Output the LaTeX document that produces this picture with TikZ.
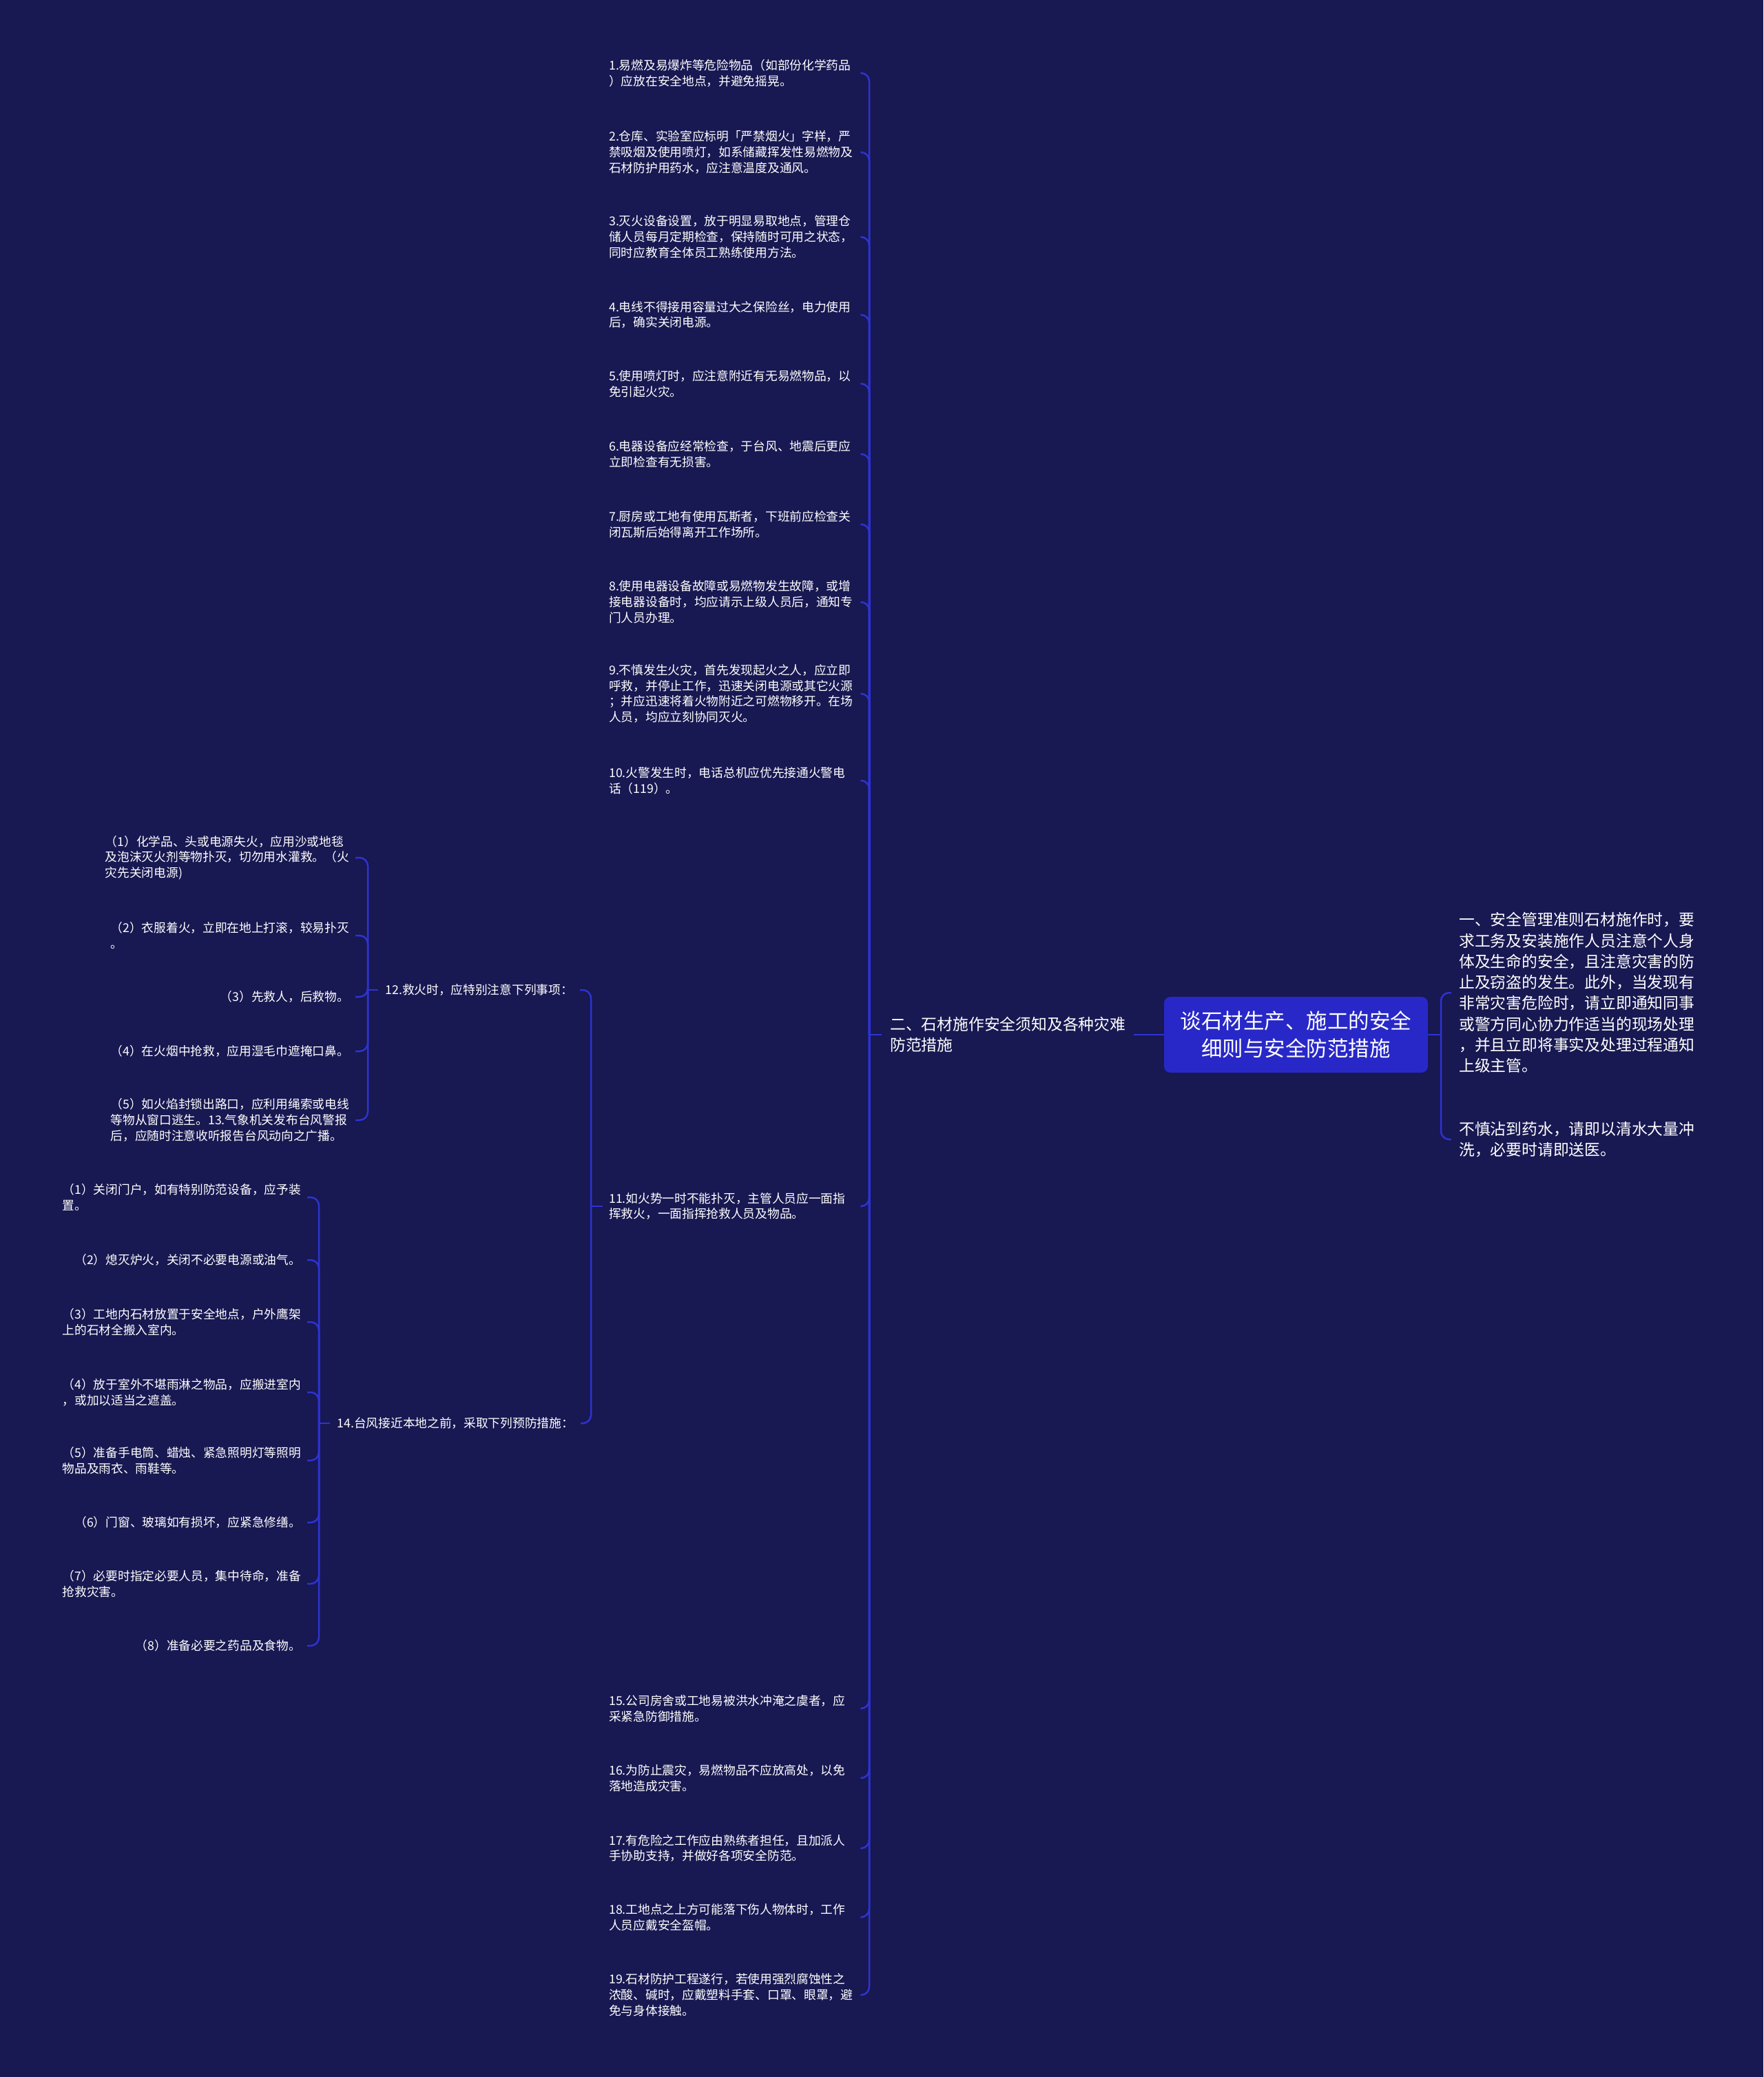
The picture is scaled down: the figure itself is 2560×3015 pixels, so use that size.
\documentclass[tikz,border=0pt]{standalone}
\usepackage{fontspec}
\setmainfont{Noto Sans CJK SC}
\definecolor{bgc}{HTML}{181852}
\definecolor{rootc}{HTML}{2828C8}
\definecolor{linec}{HTML}{2E33D2}
\begin{document}
\begin{tikzpicture}[x=1pt,y=-1pt,
  conn/.style={draw=linec, line width=2.5pt},
  hook/.style={conn, rounded corners=12pt},
  sm/.style={text=white, font=\fontsize{17.7pt}{22.8pt}\selectfont, align=left, inner xsep=9pt, inner ysep=3pt},
  itemn/.style={sm, text width=356pt, anchor=west},
  subl/.style={sm, anchor=east},
  md/.style={text=white, font=\fontsize{22.8pt}{30.3pt}\selectfont, align=left, inner xsep=11pt, inner ysep=3pt}]

% background
\fill[bgc] (0,0) rectangle (2560,3015);
\useasboundingbox (0,0) rectangle (2560,3015);

% root
\node[fill=rootc, rounded corners=9pt, minimum width=383pt, minimum height=110pt, text=white, align=center,
      font=\fontsize{30.5pt}{40pt}\selectfont] (root) at (1881.5,1502) {谈石材生产、施工的安全\\细则与安全防范措施};

% right children
\node[md, anchor=west] (r1) at (2107,1441) {一、安全管理准则石材施作时，要\\求工务及安装施作人员注意个人身\\体及生命的安全，且注意灾害的防\\止及窃盗的发生。此外，当发现有\\非常灾害危险时，请立即通知同事\\或警方同心协力作适当的现场处理\\，并且立即将事实及处理过程通知\\上级主管。};
\node[md, anchor=west] (r2) at (2107,1654) {不慎沾到药水，请即以清水大量冲\\洗，必要时请即送医。};

% left branch
\node[md, anchor=west, inner xsep=12pt] (b2) at (1280,1502) {二、石材施作安全须知及各种灾难\\防范措施};

% items
\node[itemn] (i1) at (875,106) {1.易燃及易爆炸等危险物品（如部份化学药品\\）应放在安全地点，并避免摇晃。};
\node[itemn] (i2) at (875,221) {2.仓库、实验室应标明「严禁烟火」字样，严\\禁吸烟及使用喷灯，如系储藏挥发性易燃物及\\石材防护用药水，应注意温度及通风。};
\node[itemn] (i3) at (875,344) {3.灭火设备设置，放于明显易取地点，管理仓\\储人员每月定期检查，保持随时可用之状态，\\同时应教育全体员工熟练使用方法。};
\node[itemn] (i4) at (875,457) {4.电线不得接用容量过大之保险丝，电力使用\\后，确实关闭电源。};
\node[itemn] (i5) at (875,557) {5.使用喷灯时，应注意附近有无易燃物品，以\\免引起火灾。};
\node[itemn] (i6) at (875,659) {6.电器设备应经常检查，于台风、地震后更应\\立即检查有无损害。};
\node[itemn] (i7) at (875,761) {7.厨房或工地有使用瓦斯者，下班前应检查关\\闭瓦斯后始得离开工作场所。};
\node[itemn] (i8) at (875,874) {8.使用电器设备故障或易燃物发生故障，或增\\接电器设备时，均应请示上级人员后，通知专\\门人员办理。};
\node[itemn] (i9) at (875,1007) {9.不慎发生火灾，首先发现起火之人，应立即\\呼救，并停止工作，迅速关闭电源或其它火源\\；并应迅速将着火物附近之可燃物移开。在场\\人员，均应立刻协同灭火。};
\node[itemn] (i10) at (875,1133) {10.火警发生时，电话总机应优先接通火警电\\话（119）。};
\node[itemn] (i11) at (875,1751) {11.如火势一时不能扑灭，主管人员应一面指\\挥救火，一面指挥抢救人员及物品。};
\node[itemn] (i15) at (875,2480) {15.公司房舍或工地易被洪水冲淹之虞者，应\\采紧急防御措施。};
\node[itemn] (i16) at (875,2581) {16.为防止震灾，易燃物品不应放高处，以免\\落地造成灾害。};
\node[itemn] (i17) at (875,2683) {17.有危险之工作应由熟练者担任，且加派人\\手协助支持，并做好各项安全防范。};
\node[itemn] (i18) at (875,2783) {18.工地点之上方可能落下伤人物体时，工作\\人员应戴安全盔帽。};
\node[itemn] (i19) at (875,2896) {19.石材防护工程遂行，若使用强烈腐蚀性之\\浓酸、碱时，应戴塑料手套、口罩、眼罩，避\\免与身体接触。};

% level under 11
\node[sm, anchor=east, inner xsep=10pt] (i12) at (842,1437) {12.救火时，应特别注意下列事项：};
\node[sm, anchor=east, inner xsep=10pt] (i14) at (843,2066) {14.台风接近本地之前，采取下列预防措施：};

% children of 12
\node[subl] (a1) at (516,1245) {（1）化学品、头或电源失火，应用沙或地毯\\及泡沫灭火剂等物扑灭，切勿用水灌救。（火\\灾先关闭电源)};
\node[subl] (a2) at (516,1358) {（2）衣服着火，立即在地上打滚，较易扑灭\\。};
\node[subl] (a3) at (516,1447) {（3）先救人，后救物。};
\node[subl] (a4) at (516,1526) {（4）在火烟中抢救，应用湿毛巾遮掩口鼻。};
\node[subl] (a5) at (516,1626) {（5）如火焰封锁出路口，应利用绳索或电线\\等物从窗口逃生。13.气象机关发布台风警报\\后，应随时注意收听报告台风动向之广播。};

% children of 14
\node[subl] (c1) at (446,1738) {（1）关闭门户，如有特别防范设备，应予装\\置。};
\node[subl] (c2) at (446,1829) {（2）熄灭炉火，关闭不必要电源或油气。};
\node[subl] (c3) at (446,1919) {（3）工地内石材放置于安全地点，户外鹰架\\上的石材全搬入室内。};
\node[subl] (c4) at (446,2021) {（4）放于室外不堪雨淋之物品，应搬进室内\\，或加以适当之遮盖。};
\node[subl] (c5) at (446,2120) {（5）准备手电筒、蜡烛、紧急照明灯等照明\\物品及雨衣、雨鞋等。};
\node[subl] (c6) at (446,2210) {（6）门窗、玻璃如有损坏，应紧急修缮。};
\node[subl] (c7) at (446,2299) {（7）必要时指定必要人员，集中待命，准备\\抢救灾害。};
\node[subl] (c8) at (446,2389) {（8）准备必要之药品及食物。};

% spine coordinates
\coordinate (sR) at (2092,1502);
\coordinate (sL) at (1262,1502);
\coordinate (s11) at (858,1751);
\coordinate (s12) at (534,1437);
\coordinate (s14) at (463,2066);

% connectors: root
\draw[conn] (root.east) -- (sR);
\foreach \n in {r1,r2} \draw[hook] (sR) |- (\n.west);
\draw[conn] (root.west) -- (b2.east);

% connectors: branch 2
\draw[conn] (b2.west) -- (sL);
\foreach \n in {i1,i2,i3,i4,i5,i6,i7,i8,i9,i10,i11,i15,i16,i17,i18,i19}
  \draw[hook] (sL) |- (\n.east);

% connectors: item 11
\draw[conn] (i11.west) -- (s11);
\foreach \n in {i12,i14} \draw[hook] (s11) |- (\n.east);

% connectors: item 12
\draw[conn] (i12.west) -- (s12);
\foreach \n in {a1,a2,a3,a4,a5} \draw[hook] (s12) |- (\n.east);

% connectors: item 14
\draw[conn] (i14.west) -- (s14);
\foreach \n in {c1,c2,c3,c4,c5,c6,c7,c8} \draw[hook] (s14) |- (\n.east);
\end{tikzpicture}
\end{document}
